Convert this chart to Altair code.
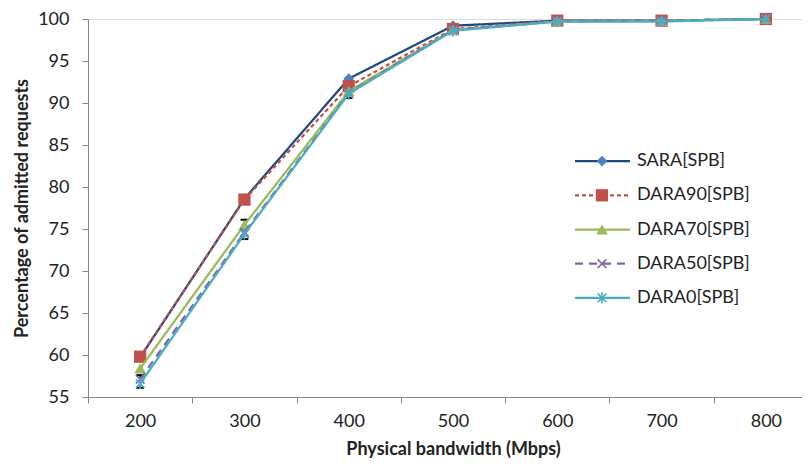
import altair as alt
import pandas as pd

bandwidth = ["200", "300", "400", "500", "600", "700", "800"]
series_names = ["SARA[SPB]", "DARA90[SPB]", "DARA70[SPB]", "DARA50[SPB]", "DARA0[SPB]"]
sara = [59.7, 78.6, 92.9, 99.2, 99.8, 99.8, 100.0]
dara90 = [59.8, 78.5, 92.0, 98.8, 99.8, 99.8, 100.0]
dara70 = [58.4, 75.5, 91.4, 98.7, 99.7, 99.8, 100.0]
dara50 = [57.1, 74.6, 91.2, 98.7, 99.7, 99.8, 100.0]
dara0 = [56.6, 74.4, 91.1, 98.6, 99.7, 99.7, 100.0]
all_values = [sara, dara90, dara70, dara50, dara0]

# error bars (black)
err_x = ["200", "300", "300", "400"]
err_lo = [56.1, 74.9, 73.8, 90.6]
err_hi = [57.6, 76.1, 75.0, 91.6]

line_colors = ["#1F497D", "#C0504D", "#9BBB59", "#8064A2", "#4BACC6"]
marker_colors = ["#4F81BD", "#C0504D", "#9BBB59", "#8064A2", "#4BACC6"]
dashes = [[1, 0], [4, 3], [1, 0], [8, 6], [1, 0]]
shapes = ["diamond", "square", "triangle-up",
          "M-1,-1L1,1M-1,1L1,-1",
          "M-1,-1L1,1M-1,1L1,-1M0,-1.3L0,1.3"]
filled = [True, True, True, False, False]
sizes = [115, 150, 140, 75, 75]

FONT = "Lato"

xscale = alt.Scale(type="band", domain=bandwidth, range=[0, 730], paddingInner=0, paddingOuter=0)
yscale = alt.Scale(domain=[55, 100], nice=False, zero=False)

xaxis = alt.Axis(title="Physical bandwidth (Mbps)", tickBand="extent", labelAngle=0,
                 domainColor="#868686", tickColor="#868686", tickSize=6, labelPadding=9,
                 labelFontSize=18, labelColor="#222222", labelFont=FONT,
                 titleFont=FONT, titleFontSize=18, titleFontWeight="bold", titleColor="#222222",
                 titleX=365, titlePadding=10, grid=False)
yaxis = alt.Axis(title="Percentage of admitted requests", values=list(range(55, 101, 5)),
                 domainColor="#868686", tickColor="#868686", tickSize=6, labelPadding=13,
                 labelFontSize=18, labelColor="#222222", labelFont=FONT,
                 titleFont=FONT, titleFontSize=18, titleFontWeight="bold", titleColor="#222222",
                 titlePadding=6, grid=False)


def X():
    return alt.X("bw:O", scale=xscale, axis=xaxis, bandPosition=0.5)


def Y(field):
    return alt.Y(field, scale=yscale, axis=yaxis)


layers = []
for i, (name, vals) in enumerate(zip(series_names, all_values)):
    df = pd.DataFrame({"bw": bandwidth, "value": vals, "series": name})
    base = alt.Chart(df)
    line = base.mark_line(color=line_colors[i], strokeWidth=2.25, strokeDash=dashes[i]).encode(
        x=X(), y=Y("value:Q"))
    if filled[i]:
        pt = base.mark_point(shape=shapes[i], filled=True, size=sizes[i], color=marker_colors[i], opacity=1)
    else:
        pt = base.mark_point(shape=shapes[i], filled=False, size=sizes[i], color=marker_colors[i],
                             strokeWidth=1.6, opacity=1)
    pt = pt.encode(x=X(), y=Y("value:Q"))
    layers += [line, pt]

err_df = pd.DataFrame({"bw": err_x, "lo": err_lo, "hi": err_hi})
err_rule = alt.Chart(err_df).mark_rule(color="black", strokeWidth=1.3).encode(
    x=X(), y=Y("lo:Q"), y2="hi:Q")
err_lo_cap = alt.Chart(err_df).mark_point(shape="stroke", size=60, color="black", strokeWidth=2, opacity=1).encode(
    x=X(), y=Y("lo:Q"))
err_hi_cap = alt.Chart(err_df).mark_point(shape="stroke", size=60, color="black", strokeWidth=2, opacity=1).encode(
    x=X(), y=Y("hi:Q"))

data_layer = alt.layer(err_rule, err_lo_cap, err_hi_cap, *layers)

# custom legend
lscale = alt.Scale(type="point", domain=series_names, range=[125, 296])
leg_layers = []
for i, name in enumerate(series_names):
    ldf = pd.DataFrame({"series": [name]})
    lb = alt.Chart(ldf)
    rule = lb.mark_rule(color=line_colors[i], strokeWidth=2.25, strokeDash=dashes[i]).encode(
        y=alt.Y("series:N", scale=lscale, axis=None), x=alt.value(487), x2=alt.value(542))
    if filled[i]:
        lp = lb.mark_point(shape=shapes[i], filled=True, size=sizes[i], color=marker_colors[i], opacity=1)
    else:
        lp = lb.mark_point(shape=shapes[i], filled=False, size=sizes[i], color=marker_colors[i],
                           strokeWidth=1.6, opacity=1)
    lp = lp.encode(y=alt.Y("series:N", scale=lscale, axis=None), x=alt.value(514))
    txt = lb.mark_text(align="left", baseline="middle", font=FONT, fontSize=18, color="#222222").encode(
        y=alt.Y("series:N", scale=lscale, axis=None), x=alt.value(549), text="series:N")
    leg_layers += [rule, lp, txt]
legend_layer = alt.layer(*leg_layers)

chart = alt.layer(data_layer, legend_layer).resolve_scale(y="independent").properties(
    width=714, height=378,
    autosize=alt.AutoSizeParams(type="none"),
    padding={"left": 80, "top": 11, "right": 0, "bottom": 61},
).configure_view(strokeWidth=0).configure(background="white")

chart.save("out.html", embed_options={"renderer": "svg", "actions": False})
